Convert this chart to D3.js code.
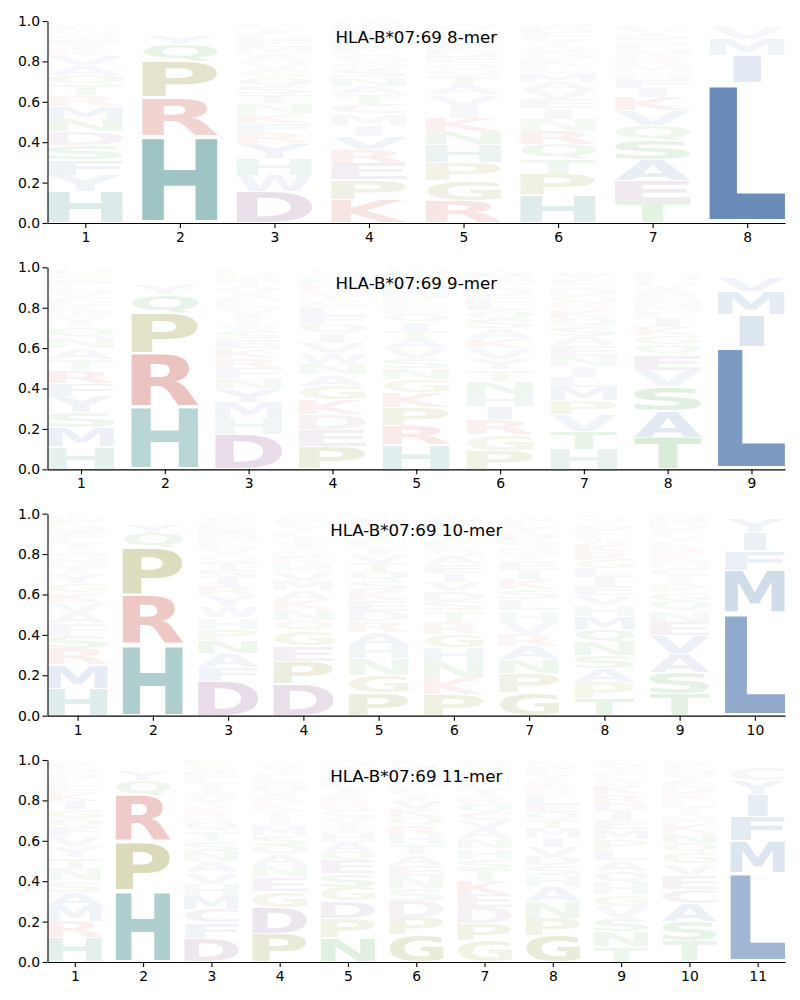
<!DOCTYPE html>
<html><head><meta charset="utf-8">
<script src="https://cdn.jsdelivr.net/npm/d3@7"></script>
<style>body{margin:0;background:#fff}</style>
</head><body><svg id="chart" width="800" height="1000"></svg>
<script>
const titles = ["HLA-B*07:69 8-mer","HLA-B*07:69 9-mer","HLA-B*07:69 10-mer","HLA-B*07:69 11-mer"];
const yTicks = [0, 0.2, 0.4, 0.6, 0.8, 1.0];

const mer8 = [
 {H:.15,Y:.08,F:.075,S:.07,D:.065,N:.06,M:.06,R:.055,T:.05,Q:.045,A:.045,V:.045,K:.03,I:.025,E:.025,G:.025,W:.02,L:.02,P:.015,C:.01},
 {H:.43,R:.195,P:.18,Q:.085,Y:.04,K:.01,A:.008,S:.007,N:.006,T:.006,E:.005,L:.005,V:.005,G:.004,D:.004,M:.004,I:.003,F:.003,W:.002,C:.002},
 {D:.145,W:.075,H:.075,Y:.07,R:.05,F:.045,K:.045,N:.045,T:.04,S:.04,Q:.04,G:.035,V:.035,A:.035,M:.035,E:.03,L:.03,I:.025,P:.02,C:.015},
 {K:.11,P:.095,E:.08,R:.065,V:.06,I:.055,M:.055,C:.045,T:.045,A:.04,N:.04,S:.04,Q:.035,G:.035,F:.035,L:.03,Y:.03,D:.025,H:.02,W:.02},
 {R:.11,G:.10,P:.09,H:.09,N:.065,K:.065,I:.06,V:.055,A:.045,T:.04,S:.035,Q:.035,E:.03,D:.03,F:.03,L:.03,M:.03,Y:.025,W:.02,C:.015},
 {H:.135,P:.10,T:.075,Q:.07,R:.065,N:.06,I:.05,E:.045,V:.045,A:.04,M:.04,L:.035,K:.035,G:.035,S:.03,Y:.03,F:.03,D:.025,W:.02,C:.015},
 {T:.105,E:.10,A:.10,S:.095,Q:.075,V:.07,K:.065,I:.045,F:.04,H:.035,M:.035,R:.035,N:.03,L:.03,G:.025,D:.025,Y:.025,P:.02,W:.015,C:.01},
 {L:.69,I:.135,M:.08,V:.06,F:.008,Y:.006,A:.005,T:.004,W:.003,C:.002,S:.002,Q:.002}
];
const mer9 = [
 {H:.115,M:.095,S:.08,Y:.08,F:.065,R:.065,T:.058,A:.056,N:.055,Q:.05,I:.04,W:.04,K:.035,E:.035,V:.035,L:.03,D:.03,G:.025,P:.02,C:.015},
 {H:.31,R:.265,P:.20,Q:.095,Y:.05,K:.012,A:.01,S:.008,N:.007,T:.006,E:.006,V:.006,L:.005,G:.005,D:.004,M:.004,I:.004,F:.003,W:.003,C:.002},
 {D:.16,H:.075,M:.074,Y:.06,N:.05,F:.048,R:.047,K:.045,E:.04,S:.038,W:.037,I:.035,V:.035,L:.035,A:.035,Q:.03,T:.03,G:.025,P:.02,C:.015},
 {P:.11,E:.08,D:.075,K:.07,G:.065,A:.055,N:.05,W:.05,V:.05,I:.045,Q:.045,F:.04,L:.04,S:.035,T:.035,R:.03,M:.03,H:.025,Y:.025,C:.015},
 {H:.12,R:.09,P:.085,K:.075,G:.06,N:.055,S:.05,V:.045,A:.045,T:.04,I:.04,Q:.04,E:.035,L:.035,D:.03,M:.03,F:.03,Y:.03,W:.02,C:.015},
 {P:.09,G:.075,R:.07,I:.06,H:.06,N:.06,T:.055,Y:.05,V:.05,K:.048,A:.046,S:.045,Q:.04,L:.04,E:.035,D:.035,F:.03,M:.03,W:.02,C:.015},
 {H:.095,T:.085,V:.08,P:.065,M:.062,L:.05,I:.05,N:.05,E:.05,A:.045,S:.045,Q:.04,K:.04,R:.035,G:.035,D:.035,F:.03,Y:.03,W:.02,C:.015},
 {T:.155,A:.13,S:.12,V:.08,E:.075,Q:.05,G:.045,K:.04,I:.04,L:.035,M:.03,N:.03,F:.025,R:.025,Y:.025,D:.02,H:.02,P:.02,W:.015,C:.01},
 {L:.605,I:.16,M:.115,V:.065,F:.012,Y:.01,T:.008,A:.007,W:.005,C:.004,S:.003,Q:.003}
];
const mer10 = [
 {H:.135,M:.12,R:.08,S:.065,F:.06,A:.055,V:.053,K:.05,G:.045,Y:.045,T:.04,N:.04,Q:.035,I:.035,L:.035,E:.03,D:.03,P:.025,W:.02,C:.015},
 {H:.35,R:.245,P:.235,Q:.075,Y:.04,K:.009,A:.007,S:.006,N:.005,T:.005,E:.004,V:.004,L:.004,G:.003,D:.003,M:.003,I:.002},
 {D:.17,F:.07,A:.068,N:.062,P:.058,H:.057,W:.056,Y:.055,R:.045,I:.04,S:.04,T:.04,Q:.035,V:.035,L:.035,M:.035,E:.03,K:.03,G:.025,C:.015},
 {D:.16,P:.115,E:.08,G:.075,Q:.055,N:.055,K:.05,A:.05,M:.045,V:.045,H:.04,R:.04,S:.035,T:.035,I:.03,L:.03,Y:.03,F:.025,W:.02,C:.015},
 {P:.11,G:.085,N:.08,H:.065,A:.062,R:.055,D:.05,E:.05,K:.05,S:.045,Q:.045,T:.04,V:.04,I:.035,L:.035,Y:.035,M:.03,F:.03,W:.02,C:.015},
 {P:.1,K:.075,N:.074,H:.07,G:.06,R:.058,T:.055,S:.045,D:.045,V:.045,I:.04,E:.04,A:.04,Q:.035,L:.035,Y:.035,M:.03,F:.03,W:.02,C:.015},
 {G:.11,P:.095,N:.065,A:.064,R:.06,V:.057,H:.055,L:.054,S:.05,K:.05,I:.04,E:.04,T:.035,M:.035,Q:.035,D:.035,Y:.03,F:.03,W:.02,C:.015},
 {T:.085,P:.08,A:.07,S:.066,N:.065,Q:.064,M:.063,H:.055,V:.05,E:.045,I:.045,L:.045,G:.04,R:.04,K:.04,W:.035,F:.035,D:.03,Y:.03,C:.02},
 {T:.11,S:.105,A:.095,V:.09,E:.065,N:.055,Q:.05,G:.045,P:.04,I:.04,C:.04,M:.035,K:.035,R:.035,L:.03,Y:.03,F:.03,D:.03,H:.025,W:.02},
 {L:.51,M:.21,F:.095,I:.09,Y:.065,V:.008,W:.006,C:.005,A:.004,T:.004,S:.003}
];
const mer11 = [
 {H:.12,R:.08,M:.079,A:.065,S:.06,N:.058,T:.055,Y:.055,V:.05,F:.045,Q:.045,G:.045,I:.04,K:.04,E:.035,L:.035,D:.03,W:.025,P:.025,C:.015},
 {H:.35,P:.245,R:.23,Q:.075,Y:.045,K:.009,A:.007,S:.006,N:.005,T:.005,E:.004,V:.004,L:.004,G:.003,D:.003,M:.003,I:.002},
 {D:.12,F:.075,C:.07,M:.065,H:.06,V:.056,A:.055,N:.054,S:.05,T:.05,Q:.045,R:.04,K:.04,Y:.04,W:.035,I:.035,L:.035,E:.03,G:.03,P:.025},
 {P:.145,D:.13,G:.08,E:.07,N:.06,A:.055,Q:.05,S:.05,M:.045,I:.04,T:.04,K:.035,R:.035,V:.035,H:.03,L:.03,F:.03,Y:.025,W:.02,C:.015},
 {N:.12,P:.1,D:.085,G:.07,S:.066,E:.065,Q:.05,A:.045,H:.045,T:.04,V:.04,C:.04,R:.035,K:.035,I:.035,L:.035,M:.03,F:.03,Y:.025,W:.02},
 {G:.13,P:.085,D:.08,S:.06,N:.06,E:.055,A:.05,T:.05,H:.045,R:.045,Q:.04,K:.04,V:.04,I:.035,L:.035,M:.03,F:.03,Y:.03,W:.02,C:.02},
 {G:.105,P:.085,D:.08,E:.066,K:.065,T:.06,S:.05,H:.05,N:.05,A:.045,V:.045,C:.04,Q:.04,R:.035,I:.035,L:.035,M:.03,F:.03,Y:.03,W:.025},
 {G:.13,P:.085,N:.078,A:.075,H:.055,S:.05,D:.045,V:.045,I:.045,M:.045,T:.04,Q:.04,E:.04,L:.04,R:.035,K:.035,Y:.03,F:.03,W:.025,C:.02},
 {T:.075,N:.074,S:.065,V:.06,G:.058,H:.057,Q:.055,A:.054,L:.053,P:.05,M:.05,E:.045,I:.045,D:.04,R:.04,K:.04,W:.035,F:.035,Y:.035,C:.025},
 {T:.105,S:.10,A:.09,C:.075,E:.07,V:.058,G:.055,Q:.05,N:.05,K:.045,M:.04,I:.04,L:.04,R:.035,D:.035,F:.03,Y:.03,H:.03,P:.025,W:.02},
 {L:.44,M:.16,F:.12,I:.11,Y:.07,C:.06,V:.012,W:.008,A:.006,T:.005,S:.004,Q:.003,H:.002}
];

const panels = [mer8, mer9, mer10, mer11];

const groupColors = {
  hydrophobic: "#688bb9", histidine: "#60a09e", basic: "#cb6058",
  special: "#97973e", acidic: "#9b6f9b", polar: "#50a850"
};
const aaGroup = {A:"hydrophobic",V:"hydrophobic",L:"hydrophobic",I:"hydrophobic",M:"hydrophobic",F:"hydrophobic",W:"hydrophobic",Y:"hydrophobic",
  H:"histidine", R:"basic", K:"basic", P:"special", G:"special", D:"acidic", E:"acidic", C:"acidic",
  S:"polar", T:"polar", N:"polar", Q:"polar"};

// glyph ink metrics
const FS = 100;
const ctx = document.createElement("canvas").getContext("2d");
ctx.font = `bold ${FS}px "DejaVu Sans"`;
const metricCache = {};
function ink(c){
  if (!metricCache[c]) {
    const m = ctx.measureText(c);
    metricCache[c] = {l:m.actualBoundingBoxLeft, r:m.actualBoundingBoxRight, a:m.actualBoundingBoxAscent, d:m.actualBoundingBoxDescent};
  }
  return metricCache[c];
}
const refE = ink("E");
const refEW = refE.l + refE.r;

const svg = d3.select("#chart");
const L = 47.5, R = 785, H = 202, step = 246.33, top0 = 21;
const VPAD = 0.06, WIDTH = 0.8;

panels.forEach((cols, i) => {
  const n = cols.length;
  const top = top0 + i * step, bottom = top + H;
  const x = d3.scaleLinear().domain([0.6, n + 0.4]).range([L, R]);
  const y = d3.scaleLinear().domain([0, 1]).range([bottom, top]);
  const g = svg.append("g");
  const glyphs = g.append("g");

  cols.forEach((col, ci) => {
    const pos = ci + 1;
    const entries = Object.entries(col);
    const total = d3.sum(entries, d => d[1]);
    const sorted = entries.map(([c, v]) => [c, v / total]).sort((a, b) => b[1] - a[1]);
    let floor = 0;
    sorted.forEach(([c, f]) => {
      const ceil = floor + f;
      const yb = floor + VPAD * f / 2, yt = ceil - VPAD * f / 2;
      floor = ceil;
      const m = ink(c);
      const w = m.l + m.r, h = m.a + m.d;
      const x0 = x(pos - WIDTH / 2), W = x(pos + WIDTH / 2) - x0;
      const hs = Math.min(W / w, W / refEW);
      const cw = hs * w;
      const shift = (W - cw) / 2;
      const pyB = y(yb), Hpx = y(yb) - y(yt);
      if (Hpx < 0.5) return;
      const vs = Hpx / h;
      glyphs.append("text")
        .attr("transform", `translate(${x0 + shift},${pyB}) scale(${hs},${vs})`)
        .attr("x", m.l).attr("y", -m.d)
        .attr("font-family", "DejaVu Sans").attr("font-weight", "bold").attr("font-size", FS)
        .attr("fill", groupColors[aaGroup[c]])
        .attr("fill-opacity", Math.min(1, f / 0.7))
        .text(c);
    });
  });

  const yAxis = d3.axisLeft(y).tickValues(yTicks).tickFormat(d3.format(".1f")).tickSize(5).tickSizeOuter(0).tickPadding(2.5);
  const xAxis = d3.axisBottom(x).tickValues(d3.range(1, n + 1)).tickFormat(d3.format("d")).tickSize(5).tickSizeOuter(0).tickPadding(4);
  const ya = g.append("g").attr("transform", `translate(${L},0)`).call(yAxis);
  const xa = g.append("g").attr("transform", `translate(0,${bottom})`).call(xAxis);
  [ya, xa].forEach(a => {
    a.selectAll("text").attr("font-family", "DejaVu Sans").attr("font-size", 13.9).attr("fill", "#000");
    a.selectAll("line").attr("stroke", "#000").attr("stroke-width", 1.1);
    a.select(".domain").attr("stroke", "#000").attr("stroke-width", 1.1);
  });

  g.append("text").attr("x", (L + R) / 2).attr("y", top + 22)
    .attr("text-anchor", "middle").attr("font-family", "DejaVu Sans").attr("font-size", 16.67)
    .attr("fill", "#000").text(titles[i]);
});
</script></body></html>
